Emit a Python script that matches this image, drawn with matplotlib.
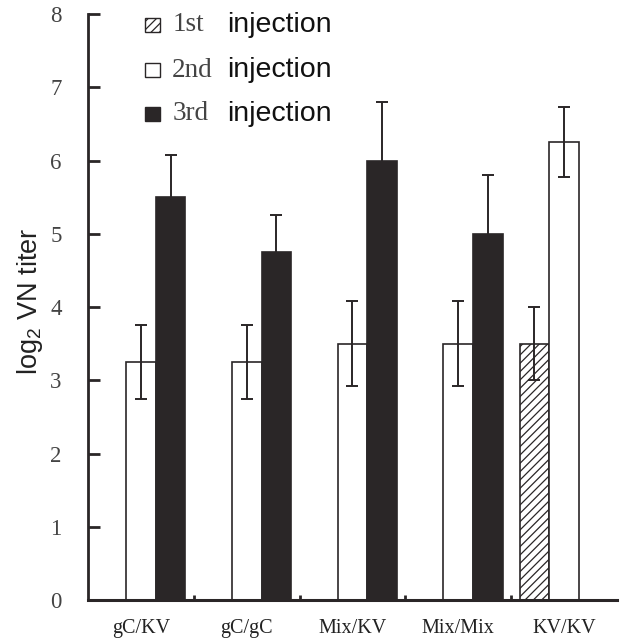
import matplotlib
matplotlib.use("Agg")
import matplotlib.pyplot as plt
import numpy as np
from matplotlib.patches import Rectangle

groups = ["gC/KV", "gC/gC", "Mix/KV", "Mix/Mix", "KV/KV"]
first = [np.nan, np.nan, np.nan, np.nan, 3.5]
first_err = [np.nan, np.nan, np.nan, np.nan, 0.5]
second = [3.25, 3.25, 3.5, 3.5, 6.25]
second_err = [0.5, 0.5, 0.58, 0.58, 0.48]
third = [5.5, 4.75, 6.0, 5.0, np.nan]
third_err = [0.57, 0.5, 0.8, 0.8, np.nan]

INK = "#2a2627"
plt.rcParams["hatch.linewidth"] = 0.9
plt.rcParams["hatch.color"] = INK

def main():
    fig = plt.figure(figsize=(6.2, 6.41), dpi=100)
    ax = fig.add_axes([0.142, 0.064, 0.853, 0.914])
    x = np.arange(len(groups))
    w = 0.28
    ekw = dict(ecolor=INK, elinewidth=1.4, capsize=4.5, capthick=1.4, fmt="none")

    ax.bar(x - w, first, w, color="white", edgecolor=INK, linewidth=1.2, hatch="////")
    ax.bar(x, second, w, color="white", edgecolor=INK, linewidth=1.2)
    ax.bar(x + w, third, w, color=INK, edgecolor=INK, linewidth=1.2)
    ax.errorbar(x - w, first, yerr=first_err, **ekw)
    ax.errorbar(x, second, yerr=second_err, **ekw)
    ax.errorbar(x + w, third, yerr=third_err, **ekw)

    ax.set_xlim(-0.5, 4.5)
    ax.set_ylim(0, 8)
    for s in ["top", "right"]:
        ax.spines[s].set_visible(False)
    ax.spines["left"].set_linewidth(2)
    ax.spines["bottom"].set_linewidth(2.2)
    ax.spines["left"].set_color(INK)
    ax.spines["bottom"].set_color(INK)

    ax.set_yticks(range(0, 9))
    ax.tick_params(axis="y", direction="in", length=8.5, width=2, color=INK,
                   pad=19, labelsize=16.5, labelcolor="#444444")
    for lab in ax.get_yticklabels():
        lab.set_family("Liberation Serif")

    ax.set_xticks(x)
    ax.set_xticklabels(groups, family="Liberation Serif", fontsize=14.5, color="#222222")
    ax.tick_params(axis="x", which="major", length=0, pad=14)
    ax.set_xticks(x[:-1] + 0.5, minor=True)
    ax.tick_params(axis="x", which="minor", direction="in", length=3.5, width=2, color=INK)

    ax.set_ylabel(r"log$_{\mathregular{2}}$ VN titer", family="Liberation Sans", fontsize=19.5,
                  color="#222222")
    ax.yaxis.set_label_coords(-0.082, 0.51)

    # legend drawn by hand: serif ordinal + sans "injection"
    rows = [("1st", dict(facecolor="white", hatch="////")),
            ("2nd", dict(facecolor="white")),
            ("3rd", dict(facecolor=INK))]
    ys = [0.982, 0.904, 0.830]
    for (lab, style), yy in zip(rows, ys):
        ax.add_patch(Rectangle((0.108, yy - 0.012), 0.028, 0.024, transform=ax.transAxes,
                               edgecolor=INK, linewidth=1.0, clip_on=False, **style))
        ax.text(0.159, yy, lab, transform=ax.transAxes, family="Liberation Serif",
                fontsize=19.5, color="#444444", va="center", ha="left")
        ax.text(0.263, yy, "injection", transform=ax.transAxes, family="Liberation Sans",
                fontsize=20.5, color="#111111", va="center", ha="left")

    fig.savefig("out.png", dpi=100)

if __name__ == "__main__":
    main()
